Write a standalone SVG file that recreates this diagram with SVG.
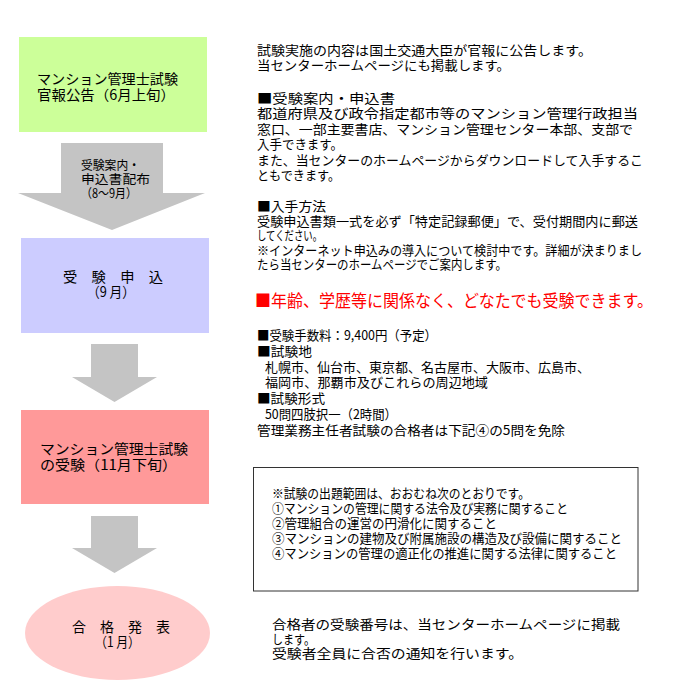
<svg xmlns="http://www.w3.org/2000/svg" width="700" height="700" viewBox="0 0 700 700">
<style>
text{font-family:"Noto Sans CJK JP","Noto Sans",sans-serif;font-size:13px;fill:#000}
.b{font-size:14px}
.s{font-size:12.5px}
.red{font-size:17px;fill:#ff0000}
.arrow{fill:#c4c4c4}
</style>
<rect width="700" height="700" fill="#ffffff"/>
<g id="connectors">
  <path class="arrow" d="M61,143 H163 V193 H205 L112,230 L18,193 H61 Z"/>
  <path class="arrow" d="M91,344 H138 V377 H157 L114.5,402 L72,377 H91 Z"/>
  <path class="arrow" d="M91,516 H138 V548 H157 L114.5,573 L72,548 H91 Z"/>
  <text class="s" x="81" y="170" textLength="59" lengthAdjust="spacingAndGlyphs">受験案内・</text>
  <text class="s" x="81" y="184" textLength="69" lengthAdjust="spacingAndGlyphs">申込書配布</text>
  <text class="s" x="81" y="198" textLength="56" lengthAdjust="spacingAndGlyphs">（8～9月）</text>
</g>
<g id="node-announce">
  <rect x="19" y="37" width="188" height="95" fill="#ccff99"/>
  <text class="b" x="37" y="84" textLength="141" lengthAdjust="spacingAndGlyphs">マンション管理士試験</text>
  <text class="b" x="37" y="100" textLength="138" lengthAdjust="spacingAndGlyphs">官報公告（6月上旬）</text>
</g>
<g id="node-apply">
  <rect x="21" y="238" width="188" height="95" fill="#ccccff"/>
  <text class="b" x="63" y="282" textLength="100" lengthAdjust="spacingAndGlyphs">受　験　申　込</text>
  <text class="b" x="87" y="297" textLength="48" lengthAdjust="spacingAndGlyphs">（9 月）</text>
</g>
<g id="node-exam">
  <rect x="21" y="410" width="188" height="94" fill="#ff9999"/>
  <text class="b" x="40" y="454" textLength="148" lengthAdjust="spacingAndGlyphs">マンション管理士試験</text>
  <text class="b" x="40" y="469.5" textLength="137" lengthAdjust="spacingAndGlyphs">の受験（11月下旬）</text>
</g>
<g id="node-result">
  <ellipse cx="117.5" cy="633" rx="92.5" ry="47" fill="#ffcccc"/>
  <text class="b" x="72" y="632" textLength="98" lengthAdjust="spacingAndGlyphs">合　格　発　表</text>
  <text class="b" x="95" y="647" textLength="45" lengthAdjust="spacingAndGlyphs">（1 月）</text>
</g>
<g id="note-announce">
  <text x="257" y="55" textLength="335" lengthAdjust="spacingAndGlyphs">試験実施の内容は国土交通大臣が官報に公告します。</text>
  <text x="257" y="70" textLength="253" lengthAdjust="spacingAndGlyphs">当センターホームページにも掲載します。</text>
  <text x="257" y="103" textLength="138" lengthAdjust="spacingAndGlyphs">■受験案内・申込書</text>
  <text x="257" y="118.4" textLength="381" lengthAdjust="spacingAndGlyphs">都道府県及び政令指定都市等のマンション管理行政担当</text>
  <text x="257" y="133.8" textLength="376" lengthAdjust="spacingAndGlyphs">窓口、一部主要書店、マンション管理センター本部、支部で</text>
  <text x="257" y="149.2" textLength="86" lengthAdjust="spacingAndGlyphs">入手できます。</text>
  <text x="257" y="164.6" textLength="386" lengthAdjust="spacingAndGlyphs">また、当センターのホームページからダウンロードして入手するこ</text>
  <text x="257" y="180" textLength="83" lengthAdjust="spacingAndGlyphs">ともできます。</text>
  <text x="257" y="211" textLength="69" lengthAdjust="spacingAndGlyphs">■入手方法</text>
  <text x="257" y="225.5" textLength="381" lengthAdjust="spacingAndGlyphs">受験申込書類一式を必ず「特定記録郵便」で、受付期間内に郵送</text>
  <text x="257" y="240" textLength="65" lengthAdjust="spacingAndGlyphs">してください。</text>
  <text x="257" y="254.5" textLength="385" lengthAdjust="spacingAndGlyphs">※インターネット申込みの導入について検討中です。詳細が決まりまし</text>
  <text x="257" y="269" textLength="250" lengthAdjust="spacingAndGlyphs">たら当センターのホームページでご案内します。</text>
  <text class="red" x="255" y="307" textLength="398" lengthAdjust="spacingAndGlyphs">■年齢、学歴等に関係なく、どなたでも受験できます。</text>
</g>
<g id="note-apply">
  <text x="257" y="340" textLength="180" lengthAdjust="spacingAndGlyphs">■受験手数料：9,400円（予定）</text>
  <text x="257" y="355.8" textLength="55" lengthAdjust="spacingAndGlyphs">■試験地</text>
  <text x="265" y="371.6" textLength="325" lengthAdjust="spacingAndGlyphs">札幌市、仙台市、東京都、名古屋市、大阪市、広島市、</text>
  <text x="265" y="387.4" textLength="223" lengthAdjust="spacingAndGlyphs">福岡市、那覇市及びこれらの周辺地域</text>
  <text x="257" y="403.2" textLength="68" lengthAdjust="spacingAndGlyphs">■試験形式</text>
  <text x="265" y="419" textLength="132" lengthAdjust="spacingAndGlyphs">50問四肢択一（2時間）</text>
  <text x="257" y="434.8" textLength="308" lengthAdjust="spacingAndGlyphs">管理業務主任者試験の合格者は下記④の5問を免除</text>
</g>
<g id="note-scope">
  <rect x="253.5" y="467.5" width="384.5" height="123.5" fill="#ffffff" stroke="#333333" stroke-width="1"/>
  <text x="272" y="497.5" textLength="258" lengthAdjust="spacingAndGlyphs">※試験の出題範囲は、おおむね次のとおりです。</text>
  <text x="272" y="512.5" textLength="296" lengthAdjust="spacingAndGlyphs">①マンションの管理に関する法令及び実務に関すること</text>
  <text x="272" y="527.5" textLength="225" lengthAdjust="spacingAndGlyphs">②管理組合の運営の円滑化に関すること</text>
  <text x="272" y="542.5" textLength="350" lengthAdjust="spacingAndGlyphs">③マンションの建物及び附属施設の構造及び設備に関すること</text>
  <text x="272" y="557.5" textLength="345" lengthAdjust="spacingAndGlyphs">④マンションの管理の適正化の推進に関する法律に関すること</text>
</g>
<g id="note-result">
  <text x="272" y="629" textLength="348" lengthAdjust="spacingAndGlyphs">合格者の受験番号は、当センターホームページに掲載</text>
  <text x="272" y="643.5" textLength="43" lengthAdjust="spacingAndGlyphs">します。</text>
  <text x="272" y="658" textLength="251" lengthAdjust="spacingAndGlyphs">受験者全員に合否の通知を行います。</text>
</g>
</svg>
